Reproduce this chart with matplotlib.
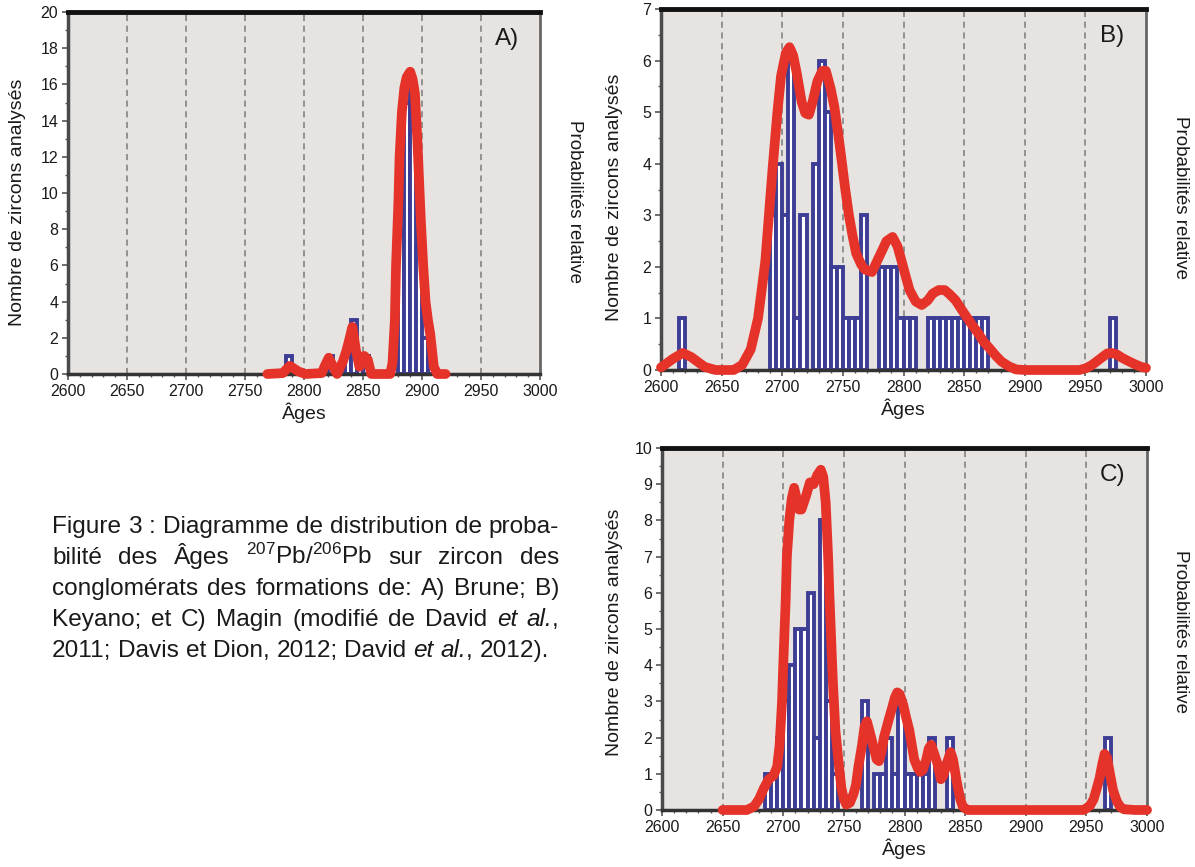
import matplotlib
matplotlib.use('Agg')
import matplotlib.pyplot as plt
from matplotlib.ticker import MultipleLocator

plt.rcParams['font.family'] = ['Liberation Sans', 'DejaVu Sans']
plt.rcParams['mathtext.fontset'] = 'custom'
plt.rcParams['mathtext.rm'] = 'Liberation Sans'
plt.rcParams['mathtext.it'] = 'Liberation Sans:italic'

# ---------------- data ----------------
# histogram bins (left edge of 5 Ma bins) and counts
A_left = [2785, 2820, 2835, 2840, 2850, 2880, 2885, 2890, 2895, 2900, 2905]
A_count = [1, 1, 1, 3, 1, 8, 15, 16, 7, 2, 1]

B_left = [2615, 2690, 2695, 2700, 2705, 2710, 2715, 2725, 2730, 2735, 2740, 2745,
          2750, 2755, 2760, 2765, 2780, 2785, 2790, 2795, 2800, 2805,
          2820, 2825, 2830, 2835, 2840, 2845, 2850, 2855, 2860, 2865, 2970]
B_count = [1, 3, 4, 3, 6, 1, 3, 4, 6, 5, 2, 2,
           1, 1, 1, 3, 2, 2, 2, 1, 1, 1,
           1, 1, 1, 1, 1, 1, 1, 1, 1, 1, 1]

C_left = [2685, 2690, 2695, 2700, 2705, 2710, 2715, 2720, 2725, 2730, 2735, 2740,
          2765, 2775, 2780, 2785, 2790, 2795, 2800, 2805, 2810, 2815, 2820, 2835, 2965]
C_count = [1, 1, 2, 3, 4, 5, 5, 6, 2, 8, 3, 1,
           3, 1, 1, 2, 1, 3, 1, 1, 1, 1, 2, 2, 2]

# relative probability curves (read in count units)
A_age = [2769, 2782, 2788, 2795, 2801, 2815, 2818, 2821, 2824, 2828, 2833, 2836, 2838,
         2841, 2844, 2847, 2849, 2851, 2854, 2857, 2873, 2875, 2877, 2878, 2880, 2881,
         2883, 2885, 2887, 2890, 2892, 2894, 2896, 2897, 2899, 2901, 2903, 2905, 2907,
         2909, 2910, 2913, 2920]
A_prob = [0, 0.05, 0.45, 0.15, 0, 0.05, 0.5, 0.9, 0.5, 0, 0.7, 1.3, 1.8,
          2.6, 1.3, 0.4, 0.8, 1.0, 0.8, 0, 0, 0.6, 3, 6, 9.5, 12,
          14.5, 15.8, 16.4, 16.7, 16.3, 15.5, 13, 11.5, 8.5, 6, 4, 3, 2.2,
          1, 0.4, 0, 0]

B_age = [2600, 2610, 2618, 2625, 2636, 2645, 2660, 2667, 2674, 2680, 2686, 2692, 2696,
         2699, 2703, 2706, 2709, 2712, 2716, 2719, 2722, 2725, 2729, 2733, 2736, 2740,
         2743, 2746, 2749, 2752, 2755, 2758, 2761, 2765, 2768, 2774, 2780, 2786, 2791,
         2795, 2798, 2802, 2805, 2810, 2815, 2820, 2824, 2829, 2834, 2838, 2843, 2848,
         2852, 2857, 2862, 2866, 2871, 2876, 2881, 2887, 2893, 2900, 2945, 2950, 2955,
         2959, 2964, 2968, 2972, 2976, 2980, 2984, 2990, 2996, 3000]
B_prob = [0.05, 0.22, 0.33, 0.25, 0.06, 0, 0, 0.1, 0.4, 1.0, 2.1, 3.9, 5.0,
          5.7, 6.15, 6.26, 6.1, 5.75, 5.2, 4.98, 4.95, 5.2, 5.6, 5.8, 5.8, 5.45,
          5.1, 4.6, 4.06, 3.5, 3.0, 2.6, 2.26, 2.05, 1.95, 1.9, 2.2, 2.5, 2.58,
          2.4, 2.15, 1.8, 1.55, 1.33, 1.26, 1.35, 1.48, 1.55, 1.55, 1.47, 1.35, 1.17,
          1.03, 0.86, 0.7, 0.55, 0.42, 0.28, 0.16, 0.07, 0.01, 0, 0, 0.03, 0.09,
          0.16, 0.25, 0.32, 0.33, 0.3, 0.24, 0.19, 0.12, 0.06, 0.04]

C_age = [2650, 2670, 2676, 2680, 2684, 2688, 2692, 2695, 2697, 2699, 2700, 2702, 2703,
         2705, 2707, 2709, 2711, 2713, 2715, 2717, 2719, 2722, 2725, 2728, 2731, 2733,
         2735, 2737, 2738, 2740, 2741, 2743, 2746, 2748, 2750, 2752, 2755, 2758, 2760,
         2762, 2765, 2767, 2769, 2771, 2774, 2777, 2779, 2781, 2783, 2787, 2790, 2792,
         2794, 2796, 2799, 2801, 2804, 2806, 2808, 2811, 2813, 2815, 2818, 2820, 2822,
         2825, 2827, 2830, 2832, 2835, 2838, 2840, 2843, 2846, 2848, 2852, 2948, 2950,
         2953, 2956, 2959, 2961, 2963, 2965, 2967, 2970, 2972, 2975, 2978, 2981, 2990, 3000]
C_prob = [0, 0, 0.1, 0.3, 0.6, 0.85, 0.95, 1.2, 1.8, 3.0, 4.0, 5.8, 7.0,
          8.0, 8.6, 8.9, 8.6, 8.3, 8.3, 8.5, 8.7, 9.05, 9.0, 9.25, 9.4, 9.2,
          8.5, 7.0, 6.0, 4.3, 3.5, 2.2, 1.2, 0.6, 0.3, 0.15, 0.2, 0.45, 0.7,
          1.2, 1.8, 2.3, 2.45, 2.2, 1.8, 1.4, 1.35, 1.6, 2.0, 2.5, 2.85, 3.1,
          3.25, 3.2, 2.9, 2.6, 2.2, 1.8, 1.4, 1.15, 1.05, 1.1, 1.4, 1.7, 1.8,
          1.5, 1.3, 0.85, 0.95, 1.3, 1.6, 1.4, 0.8, 0.3, 0.1, 0, 0, 0.05,
          0.12, 0.3, 0.65, 0.9, 1.25, 1.55, 1.45, 0.9, 0.55, 0.25, 0.08, 0.02, 0, 0]

x_ticks = [2600, 2650, 2700, 2750, 2800, 2850, 2900, 2950, 3000]
panel_labels = ['A)', 'B)', 'C)']
ylabel_left = 'Nombre de zircons analysés'
ylabel_right = 'Probabilités relative'
xlabel = 'Âges'

# ---------------- figure ----------------
W, H = 1195, 867
fig = plt.figure(figsize=(W / 100, H / 100), dpi=100)


def rect(l, t, r, b):
    return [l / W, 1 - b / H, (r - l) / W, (b - t) / H]


BG = '#e6e3e1'
BLUE = '#3d3d95'
RED = '#e5332a'
TXT = '#1a1a1a'


def make_panel(r, left, count, age, prob, ymax, ystep, label):
    ax = fig.add_axes(r)
    ax.set_facecolor(BG)
    ax.set_xlim(2600, 3000)
    ax.set_ylim(0, ymax)
    ax.set_xticks(x_ticks)
    ax.xaxis.set_minor_locator(MultipleLocator(10))
    ax.yaxis.set_major_locator(MultipleLocator(ystep))
    ax.yaxis.set_minor_locator(MultipleLocator(ystep / 2))
    for xv in x_ticks[1:-1]:
        ax.axvline(xv, color='#7b7b7b', ls=(0, (4, 3)), lw=1.1, zorder=1)
    ax.bar(left, count, width=5, align='edge', facecolor='white',
           edgecolor=BLUE, linewidth=2.8, zorder=2)
    ax.plot(age, prob, color=RED, lw=7, solid_capstyle='round',
            solid_joinstyle='round', zorder=4, clip_on=False)
    ax.spines['top'].set_linewidth(3.5)
    ax.spines['top'].set_color('#111111')
    ax.spines['left'].set_linewidth(2.5)
    ax.spines['left'].set_color('#4a4a4a')
    ax.spines['bottom'].set_linewidth(2.5)
    ax.spines['bottom'].set_color('#333333')
    ax.spines['right'].set_linewidth(2.0)
    ax.spines['right'].set_color('#666666')
    ax.tick_params(axis='both', which='major', labelsize=11.5, length=4,
                   width=1.2, color='#555555', labelcolor=TXT, pad=3)
    ax.tick_params(axis='both', which='minor', length=2.5, width=1.0,
                   color='#555555')
    ax.text(0.955, 0.925, label, transform=ax.transAxes, ha='right',
            va='center', fontsize=17.5, color=TXT)
    ax.set_xlabel(xlabel, fontsize=14, labelpad=3, color=TXT)
    return ax


axA = make_panel(rect(68, 12, 540, 374), A_left, A_count, A_age, A_prob, 20, 2, panel_labels[0])
axB = make_panel(rect(661, 9, 1146, 370), B_left, B_count, B_age, B_prob, 7, 1, panel_labels[1])
axC = make_panel(rect(662, 448, 1147, 810), C_left, C_count, C_age, C_prob, 10, 1, panel_labels[2])

# side labels
for xl, xr, yc in [(18, 575, 202), (614, 1180, 197), (614, 1180, 632)]:
    fig.text(xl / W, 1 - yc / H, ylabel_left, rotation=90, ha='center',
             va='center', fontsize=14, color=TXT)
    fig.text(xr / W, 1 - yc / H, ylabel_right, rotation=270, ha='center',
             va='center', fontsize=13.5, color=TXT)

# ---------------- caption (justified) ----------------
# each word is a list of (text, style) pieces written without spaces between them
caption_lines = [
    [[('Figure', 'normal')], [('3', 'normal')], [(':', 'normal')], [('Diagramme', 'normal')],
     [('de', 'normal')], [('distribution', 'normal')], [('de', 'normal')], [('proba-', 'normal')]],
    [[('bilité', 'normal')], [('des', 'normal')], [('Âges', 'normal')],
     [(r'$^{207}$Pb/$^{206}$Pb', 'normal')], [('sur', 'normal')], [('zircon', 'normal')],
     [('des', 'normal')]],
    [[('conglomérats', 'normal')], [('des', 'normal')], [('formations', 'normal')],
     [('de:', 'normal')], [('A)', 'normal')], [('Brune;', 'normal')], [('B)', 'normal')]],
    [[('Keyano;', 'normal')], [('et', 'normal')], [('C)', 'normal')], [('Magin', 'normal')],
     [('(modifié', 'normal')], [('de', 'normal')], [('David', 'normal')],
     [('et', 'italic')], [('al.', 'italic'), (',', 'normal')]],
    [[('2011;', 'normal')], [('Davis', 'normal')], [('et', 'normal')], [('Dion,', 'normal')],
     [('2012;', 'normal')], [('David', 'normal')], [('et', 'italic')],
     [('al.', 'italic'), (',', 'normal')], [('2012).', 'normal')]],
]
cap_x0, cap_x1 = 52, 559
cap_y = [527, 558, 589, 620, 651]
cap_fs = 17.6

fig.canvas.draw()
renderer = fig.canvas.get_renderer()
t1 = fig.text(0, 0, 'a a', fontsize=cap_fs)
t2 = fig.text(0, 0, 'aa', fontsize=cap_fs)
space_w = t1.get_window_extent(renderer).width - t2.get_window_extent(renderer).width
t1.remove()
t2.remove()

for i, words in enumerate(caption_lines):
    word_items = []
    for pieces in words:
        items = []
        for txt, style in pieces:
            t = fig.text(0, 1 - cap_y[i] / H, txt, fontsize=cap_fs, va='baseline',
                         ha='left', color=TXT, style=style)
            items.append((t, t.get_window_extent(renderer).width))
        word_items.append(items)
    widths = [sum(w for _, w in items) for items in word_items]
    if i < len(caption_lines) - 1:
        gap = max((cap_x1 - cap_x0 - sum(widths)) / (len(words) - 1), 0.6 * space_w)
    else:
        gap = space_w
    x = cap_x0
    for items, wsum in zip(word_items, widths):
        xx = x
        for t, w in items:
            t.set_x(xx / W)
            t.set_y(1 - (cap_y[i] + 6) / H)
            xx += w
        x += wsum + gap

fig.savefig('out.png', dpi=100)
